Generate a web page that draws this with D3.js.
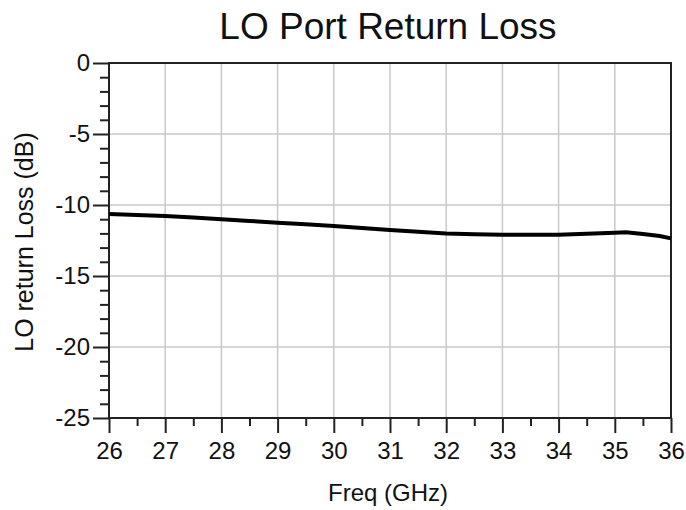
<!DOCTYPE html>
<html>
<head>
<meta charset="utf-8">
<script src="https://cdn.jsdelivr.net/npm/d3@7"></script>
<style>
  body { margin: 0; background: #fff; }
  svg text { font-family: "Liberation Sans", Arial, sans-serif; fill: #111; }
</style>
</head>
<body>
<div class="container"></div>
<script>
const WIDTH = 686;
const HEIGHT = 510;
const LEFT = 109, RIGHT = 671, TOP = 63, BOTTOM = 418;

// data
var freqs = [26, 26.5, 27, 27.5, 28, 28.5, 29, 29.5, 30, 30.5, 31, 31.5, 32, 32.5, 33, 33.5, 34, 34.5, 35, 35.2, 35.5, 35.8, 36];
var returnLoss = [-10.63, -10.7, -10.77, -10.88, -11.0, -11.12, -11.25, -11.36, -11.48, -11.62, -11.76, -11.88, -12.0, -12.06, -12.09, -12.1, -12.09, -12.03, -11.95, -11.92, -12.05, -12.18, -12.35];
var xTicks = [26, 27, 28, 29, 30, 31, 32, 33, 34, 35, 36];
var yTicks = [0, -5, -10, -15, -20, -25];
var title = "LO Port Return Loss";
var xLabel = "Freq (GHz)";
var yLabel = "LO return Loss (dB)";

var svg = d3.select('.container').append('svg')
    .attr('width', WIDTH)
    .attr('height', HEIGHT);

var xScale = d3.scaleLinear().domain([26, 36]).range([LEFT, RIGHT]);
var yScale = d3.scaleLinear().domain([-25, 0]).range([BOTTOM, TOP]);

// grid
svg.append('g').selectAll('line.vg')
    .data(xTicks.slice(1, -1))
    .enter().append('line')
    .attr('x1', xScale).attr('x2', xScale)
    .attr('y1', TOP).attr('y2', BOTTOM)
    .attr('stroke', '#c8c8c8').attr('stroke-width', 1.5);

svg.append('g').selectAll('line.hg')
    .data(yTicks.slice(1, -1))
    .enter().append('line')
    .attr('y1', yScale).attr('y2', yScale)
    .attr('x1', LEFT).attr('x2', RIGHT)
    .attr('stroke', '#c8c8c8').attr('stroke-width', 1.5);

// minor ticks
var xMinor = d3.range(26.5, 36, 1);
var yMinor = d3.range(-24, 0, 1).filter(function(d) { return d % 5 !== 0; });

// plain hyphen instead of d3's unicode minus
var plain = function(d) { return String(d); };

var xAxisMinor = d3.axisBottom(xScale).tickValues(xMinor).tickSize(8).tickFormat('');
var yAxisMinor = d3.axisLeft(yScale).tickValues(yMinor).tickSize(9).tickFormat('');
var xAxis = d3.axisBottom(xScale).tickValues(xTicks).tickSize(15).tickPadding(9).tickFormat(plain);
var yAxis = d3.axisLeft(yScale).tickValues(yTicks).tickSize(16).tickPadding(3).tickFormat(plain);

[
  svg.append('g').attr('transform', 'translate(0,' + BOTTOM + ')').call(xAxisMinor),
  svg.append('g').attr('transform', 'translate(' + LEFT + ',0)').call(yAxisMinor),
  svg.append('g').attr('transform', 'translate(0,' + BOTTOM + ')').call(xAxis),
  svg.append('g').attr('transform', 'translate(' + LEFT + ',0)').call(yAxis)
].forEach(function(g) {
    g.select('.domain').remove();
    g.selectAll('line').attr('stroke', '#222').attr('stroke-width', 2);
    g.selectAll('text').attr('font-size', 24).attr('fill', '#111');
});

// frame
svg.append('rect')
    .attr('x', LEFT).attr('y', TOP)
    .attr('width', RIGHT - LEFT).attr('height', BOTTOM - TOP)
    .attr('fill', 'none').attr('stroke', '#222').attr('stroke-width', 2);

// curve
var line = d3.line()
    .x(function(d, i) { return xScale(freqs[i]); })
    .y(function(d) { return yScale(d); });

svg.append('path')
    .attr('d', line(returnLoss))
    .attr('fill', 'none')
    .attr('stroke', '#000')
    .attr('stroke-width', 4);

// labels
svg.append('text')
    .attr('x', 388).attr('y', 39)
    .attr('text-anchor', 'middle')
    .attr('font-size', 37)
    .text(title);

svg.append('text')
    .attr('x', 388).attr('y', 501)
    .attr('text-anchor', 'middle')
    .attr('font-size', 24)
    .text(xLabel);

svg.append('text')
    .attr('transform', 'translate(33,242) rotate(-90)')
    .attr('text-anchor', 'middle')
    .attr('font-size', 25)
    .text(yLabel);
</script>
</body>
</html>
